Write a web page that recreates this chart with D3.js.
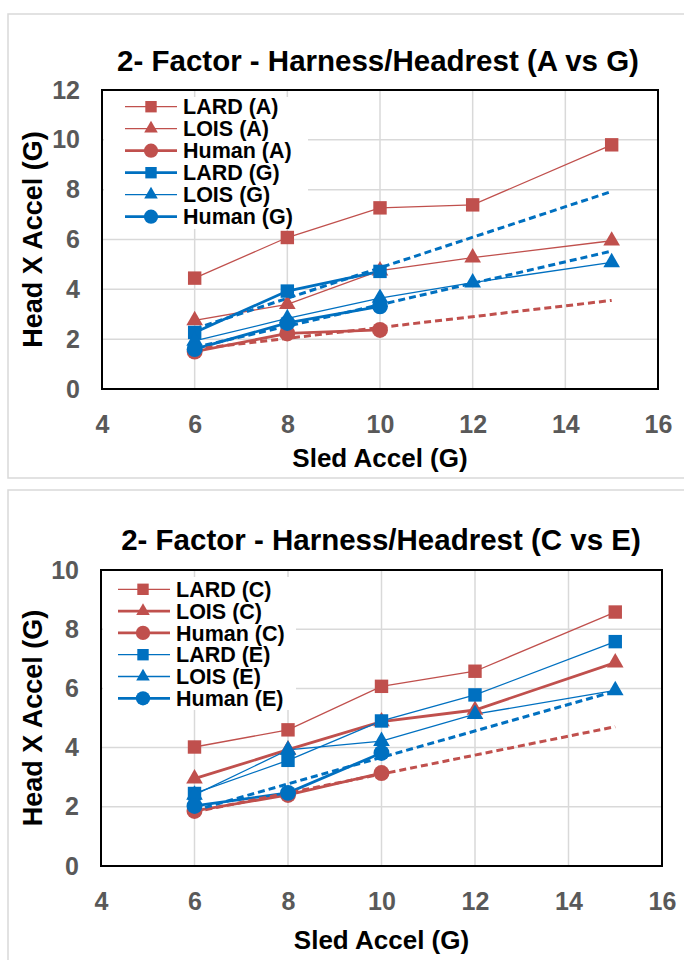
<!DOCTYPE html>
<html><head><meta charset="utf-8">
<script src="https://cdn.jsdelivr.net/npm/d3@7"></script>
<style>
html,body{margin:0;padding:0;background:#fff;}
svg{display:block;font-family:"Liberation Sans",Arial,sans-serif;}
</style>
</head><body>
<svg id="c" width="684" height="960"></svg>
<script>
// Sled acceleration levels (G)
const sledFull = [6, 8, 10, 12, 15];
const sledShort = [6, 8, 10];
const xTicks = [4, 6, 8, 10, 12, 14, 16];
const yTicksTop = [0, 2, 4, 6, 8, 10, 12];
const yTicksBottom = [0, 2, 4, 6, 8, 10];

// Head X acceleration (G), configurations A and G
const lardA  = [4.45, 6.08, 7.27, 7.39, 9.8];
const loisA  = [2.75, 3.4, 4.75, 5.27, 5.95];
const humanA = [1.5, 2.23, 2.37];
const lardG  = [2.27, 3.93, 4.72];
const loisG  = [1.93, 2.83, 3.65, 4.27, 5.08];
const humanG = [1.6, 2.65, 3.32];

// Head X acceleration (G), configurations C and E
const lardC  = [4.02, 4.6, 6.07, 6.58, 8.58];
const loisC  = [2.95, 3.93, 4.88, 5.27, 6.87];
const humanC = [1.86, 2.4, 3.14];
const lardE  = [2.45, 3.57, 4.9, 5.78, 7.58];
const loisE  = [2.4, 3.92, 4.22, 5.13, 5.93];
const humanE = [2.03, 2.47, 3.82];

const RED = "#C0504D", BLUE = "#0070C0";
const TICK_GRAY = "#595959", GRID = "#d9d9d9";

const svg = d3.select("#c");

// least-squares linear trend through a series
function fit(xs, ys) {
  const mx = d3.mean(xs), my = d3.mean(ys);
  const sxy = d3.sum(xs, (x, i) => (x - mx) * (ys[i] - my));
  const sxx = d3.sum(xs, x => (x - mx) * (x - mx));
  const b = sxy / sxx;
  return x => my + b * (x - mx);
}

function symbolFor(shape, legend) {
  if (shape === "square") return d3.symbol(d3.symbolSquare, legend ? 130 : 180);
  if (shape === "triangle") return d3.symbol(d3.symbolTriangle, legend ? 80 : 120);
  return d3.symbol(d3.symbolCircle, legend ? 160 : 200);
}

function drawChart(cfg) {
  const g = svg.append("g");
  // outer chart frame
  g.append("rect").attr("x", cfg.frame[0]).attr("y", cfg.frame[1])
    .attr("width", cfg.frame[2]).attr("height", cfg.frame[3])
    .attr("fill", "#fff").attr("stroke", GRID).attr("stroke-width", 1.5);

  const x = d3.scaleLinear().domain([4, 16]).range([cfg.left, cfg.right]);
  const y = d3.scaleLinear().domain([0, cfg.yMax]).range([cfg.bottom, cfg.top]);

  // gridlines
  g.append("g").selectAll("line").data(xTicks.slice(1, -1)).join("line")
    .attr("x1", d => x(d)).attr("x2", d => x(d))
    .attr("y1", cfg.top).attr("y2", cfg.bottom)
    .attr("stroke", GRID).attr("stroke-width", 1.5);
  g.append("g").selectAll("line").data(cfg.yTicks.slice(1, -1)).join("line")
    .attr("x1", cfg.left).attr("x2", cfg.right)
    .attr("y1", d => y(d)).attr("y2", d => y(d))
    .attr("stroke", GRID).attr("stroke-width", 1.5);

  // axes (tick labels only)
  const xAxis = g.append("g").attr("transform", `translate(0,${cfg.bottom})`)
    .call(d3.axisBottom(x).tickValues(xTicks).tickSize(0).tickPadding(cfg.xTickPad));
  const yAxis = g.append("g").attr("transform", `translate(${cfg.left},0)`)
    .call(d3.axisLeft(y).tickValues(cfg.yTicks).tickSize(0).tickPadding(cfg.yTickPad));
  [xAxis, yAxis].forEach(a => {
    a.select(".domain").remove();
    a.selectAll("text").attr("fill", TICK_GRAY)
      .style("font-size", "25px").style("font-weight", "bold")
      .style("font-family", '"Liberation Sans", Arial, sans-serif');
  });

  // series
  const line = d3.line().x(d => x(d[0])).y(d => y(d[1]));
  const lines = g.append("g"), trends = g.append("g"), marks = g.append("g");
  cfg.series.forEach(s => {
    const pts = s.x.map((v, i) => [v, s.y[i]]);
    lines.append("path").attr("d", line(pts)).attr("fill", "none")
      .attr("stroke", s.color).attr("stroke-width", s.thick ? 2.8 : 1.3);
    marks.append("g").selectAll("path").data(pts).join("path")
      .attr("transform", d => `translate(${x(d[0])},${y(d[1])})`)
      .attr("d", symbolFor(s.shape, false)()).attr("fill", s.color);
    if (s.trend) {
      const f = fit(s.x, s.y);
      trends.append("path").attr("d", line([[6, f(6)], [15, f(15)]]))
        .attr("fill", "none").attr("stroke", s.color).attr("stroke-width", 3)
        .attr("stroke-dasharray", "7,4");
    }
  });

  // plot border
  g.append("rect").attr("x", cfg.left).attr("y", cfg.top)
    .attr("width", cfg.right - cfg.left).attr("height", cfg.bottom - cfg.top)
    .attr("fill", "none").attr("stroke", "#000").attr("stroke-width", 2);

  // legend
  const L = cfg.legend;
  const lg = g.append("g");
  lg.append("rect").attr("x", L.box[0]).attr("y", L.box[1])
    .attr("width", L.box[2]).attr("height", L.box[3]).attr("fill", "#fff");
  cfg.series.forEach((s, i) => {
    const cy = L.y0 + i * L.dy;
    lg.append("line").attr("x1", L.x1).attr("x2", L.x2).attr("y1", cy).attr("y2", cy)
      .attr("stroke", s.color).attr("stroke-width", s.thick ? 2.8 : 1.3);
    lg.append("path").attr("transform", `translate(${L.mx},${cy})`)
      .attr("d", symbolFor(s.shape, true)()).attr("fill", s.color);
    lg.append("text").attr("x", L.tx).attr("y", cy).attr("dy", "0.36em")
      .style("font-size", "21.5px").style("font-weight", "bold").attr("fill", "#000")
      .text(s.name);
  });

  // titles
  g.append("text").attr("x", cfg.titleX).attr("y", cfg.titleY).attr("text-anchor", "middle")
    .style("font-size", "29.5px").style("font-weight", "bold").text(cfg.title);
  g.append("text").attr("x", (cfg.left + cfg.right) / 2).attr("y", cfg.xLabelY)
    .attr("text-anchor", "middle").style("font-size", "26px").style("font-weight", "bold")
    .text("Sled Accel (G)");
  g.append("text").attr("transform", `translate(${cfg.yLabelX},${(cfg.top + cfg.bottom) / 2}) rotate(-90)`)
    .attr("text-anchor", "middle").style("font-size", "27px").style("font-weight", "bold")
    .text("Head X Accel (G)");
}

drawChart({
  frame: [8, 14, 700, 464],
  left: 102, right: 658, top: 90, bottom: 389, yMax: 12, yTicks: yTicksTop,
  xTickPad: 26, yTickPad: 22,
  title: "2- Factor - Harness/Headrest (A vs G)", titleX: 378, titleY: 71,
  xLabelY: 467, yLabelX: 42,
  legend: { box: [104, 97, 204, 132], y0: 106.7, dy: 22, x1: 125, x2: 177, mx: 151, tx: 183 },
  series: [
    { name: "LARD (A)",  x: sledFull,  y: lardA,  color: RED,  shape: "square",   thick: false },
    { name: "LOIS (A)",  x: sledFull,  y: loisA,  color: RED,  shape: "triangle", thick: false },
    { name: "Human (A)", x: sledShort, y: humanA, color: RED,  shape: "circle",   thick: true, trend: true },
    { name: "LARD (G)",  x: sledShort, y: lardG,  color: BLUE, shape: "square",   thick: true, trend: true },
    { name: "LOIS (G)",  x: sledFull,  y: loisG,  color: BLUE, shape: "triangle", thick: false },
    { name: "Human (G)", x: sledShort, y: humanG, color: BLUE, shape: "circle",   thick: true, trend: true }
  ]
});

drawChart({
  frame: [8, 490, 700, 500],
  left: 101, right: 662, top: 570, bottom: 866, yMax: 10, yTicks: yTicksBottom,
  xTickPad: 26, yTickPad: 22,
  title: "2- Factor - Harness/Headrest (C vs E)", titleX: 381, titleY: 550,
  xLabelY: 949, yLabelX: 42,
  legend: { box: [103, 577, 193, 133], y0: 589.3, dy: 21.8, x1: 118, x2: 170, mx: 143, tx: 176 },
  series: [
    { name: "LARD (C)",  x: sledFull,  y: lardC,  color: RED,  shape: "square",   thick: false },
    { name: "LOIS (C)",  x: sledFull,  y: loisC,  color: RED,  shape: "triangle", thick: true },
    { name: "Human (C)", x: sledShort, y: humanC, color: RED,  shape: "circle",   thick: true, trend: true },
    { name: "LARD (E)",  x: sledFull,  y: lardE,  color: BLUE, shape: "square",   thick: false },
    { name: "LOIS (E)",  x: sledFull,  y: loisE,  color: BLUE, shape: "triangle", thick: false },
    { name: "Human (E)", x: sledShort, y: humanE, color: BLUE, shape: "circle",   thick: true, trend: true }
  ]
});
</script>
</body></html>
